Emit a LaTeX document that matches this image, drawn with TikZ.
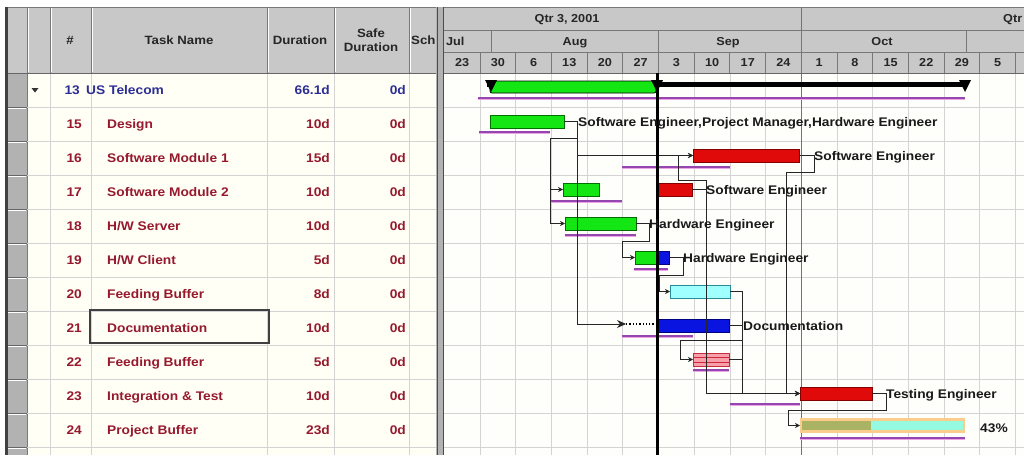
\documentclass[tikz,border=0pt]{standalone}
\usepackage{fontspec}
\setmainfont[FakeStretch=1.1]{Liberation Sans}
\usetikzlibrary{arrows.meta}
\definecolor{hdrc}{RGB}{200,200,200}
\definecolor{hdrline}{RGB}{120,120,120}
\definecolor{cellc}{RGB}{255,255,246}
\definecolor{chartc}{RGB}{254,254,250}
\definecolor{gridc}{RGB}{212,212,212}
\definecolor{rowhc}{RGB}{178,178,178}
\definecolor{tred}{RGB}{150,25,45}
\definecolor{tblue}{RGB}{45,45,150}
\definecolor{gG}{RGB}{20,230,20}
\definecolor{gGd}{RGB}{0,110,0}
\definecolor{rR}{RGB}{225,10,10}
\definecolor{rRd}{RGB}{130,0,0}
\definecolor{bB}{RGB}{10,20,225}
\definecolor{bBd}{RGB}{0,0,130}
\definecolor{cC}{RGB}{160,255,255}
\definecolor{cCd}{RGB}{40,140,150}
\definecolor{pP}{RGB}{150,70,175}
\definecolor{pK}{RGB}{235,165,230}
\definecolor{fbP}{RGB}{248,160,170}
\definecolor{fbR}{RGB}{205,40,60}
\definecolor{pbO}{RGB}{250,205,140}
\definecolor{pbG}{RGB}{170,178,100}
\definecolor{pbC}{RGB}{150,250,225}
\newcommand\ganttrow[6]{%
  \node[#6, anchor=base east] (num#2) at (82,{73+34*#1+21.5}) {#2};
  \node[#6, anchor=base west] (name#2) at (107,{73+34*#1+21.5}) {#3};
  \node[#6, anchor=base east] (dur#2) at (330,{73+34*#1+21.5}) {#4};
  \node[#6, anchor=base east] (safe#2) at (406,{73+34*#1+21.5}) {#5};
}
\begin{document}
\begin{tikzpicture}[x=1pt,y=-1pt,
  tt/.style={inner sep=0pt, font=\fontsize{12.5}{14}\selectfont\bfseries},
  ttr/.style={tt,text=tred}, ttb/.style={tt,text=tblue},
  hd/.style={inner sep=0pt, font=\fontsize{12}{14}\selectfont\bfseries, text=black!85, anchor=base},
  ts/.style={inner sep=0pt, font=\fontsize{11.5}{13}\selectfont\bfseries, text=black!85, anchor=base},
  lbl/.style={inner sep=0pt, font=\fontsize{12.5}{14}\selectfont\bfseries, text=black!90, anchor=base west},
  bar/.style={rectangle, inner sep=0pt, outer sep=0pt, anchor=north west, minimum height=13pt, line width=0.8pt},
  gbar/.style={bar, fill=gG, draw=gGd}, rbar/.style={bar, fill=rR, draw=rRd},
  bbar/.style={bar, fill=bB, draw=bBd}, cbar/.style={bar, fill=cC, draw=cCd},
  fbbar/.style={bar, fill=fbP, draw=fbR},
  link/.style={line width=0.9pt, draw=black!85},
  arr/.style={-{Stealth[length=5pt,width=5pt]}},
  baseA/.style={line width=1.6pt, draw=pP}, baseB/.style={line width=1.1pt, draw=pK}
]
\useasboundingbox (0,0) rectangle (1024,455);
\fill[white] (0,0) rectangle (1024,455);
% backgrounds
\fill[hdrc] (7,7) rectangle (436,73);
\fill[hdrc] (444,7) rectangle (1024,73);
\fill[cellc] (27,73) rectangle (436,455);
\fill[rowhc] (7,73) rectangle (27,455);
\fill[chartc] (444,73) rectangle (1024,455);
% table header lines
\foreach \x in {27,50,91,267,334,409} {
  \draw[hdrline, line width=0.9pt] (\x,7) -- (\x,73);
  \draw[white, line width=0.6pt] (\x+1.2,8) -- (\x+1.2,72);
}
\foreach \x in {50,91,267,334,409} \draw[gridc, line width=0.8pt] (\x,73) -- (\x,455);
\draw[hdrline, line width=1pt] (27,73) -- (27,455);
\foreach \k in {1,...,11} {
  \draw[gridc, line width=0.8pt] (27,{73+34*\k}) -- (436,{73+34*\k});
  \draw[black!60, line width=1pt] (7,{73+34*\k}) -- (27,{73+34*\k});
  \draw[white, line width=0.6pt] (7,{74.2+34*\k}) -- (26,{74.2+34*\k});
}
\draw[black!60, line width=1pt] (7,73) -- (436,73);
\draw[hdrline, line width=0.8pt] (7,7) -- (436,7);
% table header text
\node[hd] (hnum) at (70,44) {\#};
\node[hd] (hname) at (179,44) {Task Name};
\node[hd] (hdur) at (300,44) {Duration};
\node[hd] (hsafe1) at (371,37) {Safe};
\node[hd] (hsafe2) at (371,51) {Duration};
\node[hd, anchor=base west] (hsch) at (411,44) {Sch};
% table rows
\fill[black!80] (31.5,88) -- (38.5,88) -- (35,92.5) -- cycle;
\node[ttb, anchor=base east] (num13) at (80,94.5) {13};
\node[ttb, anchor=base west] (name13) at (86,94.5) {US Telecom};
\node[ttb, anchor=base east] (dur13) at (330,94.5) {66.1d};
\node[ttb, anchor=base east] (safe13) at (406,94.5) {0d};
\ganttrow{1}{15}{Design}{10d}{0d}{ttr}
\ganttrow{2}{16}{Software Module 1}{15d}{0d}{ttr}
\ganttrow{3}{17}{Software Module 2}{10d}{0d}{ttr}
\ganttrow{4}{18}{H/W Server}{10d}{0d}{ttr}
\ganttrow{5}{19}{H/W Client}{5d}{0d}{ttr}
\ganttrow{6}{20}{Feeding Buffer}{8d}{0d}{ttr}
\ganttrow{7}{21}{Documentation}{10d}{0d}{ttr}
\ganttrow{8}{22}{Feeding Buffer}{5d}{0d}{ttr}
\ganttrow{9}{23}{Integration \& Test}{10d}{0d}{ttr}
\ganttrow{10}{24}{Project Buffer}{23d}{0d}{ttr}
\draw[black!75, line width=2.5pt] (90,310) rectangle (269,343);
% left border and splitter
\draw[black!75, line width=2.5pt] (6.5,7) -- (6.5,455);
\fill[black!30] (436,7) rectangle (444,455);
\draw[black!70, line width=1pt] (437,7) -- (437,455);
\draw[black!70, line width=1.4pt] (443.3,7) -- (443.3,455);
% chart body grid
\foreach \i in {0,...,15} \draw[gridc, line width=0.8pt] ({480+35.7*\i},73) -- ({480+35.7*\i},455);
\foreach \k in {1,...,11} \draw[gridc, line width=0.8pt] (444,{73+34*\k}) -- (1024,{73+34*\k});
\draw[black!55, line width=1pt] (801,7) -- (801,455);
% timescale header
\draw[hdrline, line width=0.8pt] (444,7) -- (1024,7);
\draw[hdrline, line width=0.9pt] (444,30) -- (1024,30);
\draw[hdrline, line width=0.9pt] (444,52) -- (1024,52);
\draw[black!60, line width=1pt] (444,73) -- (1024,73);
\foreach \i in {0,...,15} \draw[hdrline, line width=0.9pt] ({480+35.7*\i},52) -- ({480+35.7*\i},73);
\foreach \x in {491,658,801,966} \draw[hdrline, line width=0.9pt] (\x,30) -- (\x,52);
\node[ts] (q3) at (567,22.5) {Qtr 3, 2001};
\node[ts, anchor=base west] (q4) at (1003,22.5) {Qtr};
\node[ts, anchor=base west] (mjul) at (446,45) {Jul};
\node[ts] (maug) at (575,45) {Aug};
\node[ts] (msep) at (728,45) {Sep};
\node[ts] (moct) at (882,45) {Oct};
\foreach \i/\lab in {-1/23,0/30,1/6,2/13,3/20,4/27,5/3,6/10,7/17,8/24,9/1,10/8,11/15,12/22,13/29,14/5}
  \node[ts] (wk\i) at ({480+35.7*\i+17.85},66.5) {\lab};
% baselines
\foreach \a/\b/\y in {478/965/98, 479/550/132, 622/730/167, 550/622/201, 565/636/235, 634/668/269, 622/693/336, 693/729/370, 730/800/404, 800/965/438} {
  \draw[baseA] (\a,\y) -- (\b,\y);
  \draw[baseB] (\a,\y+1.5) -- (\b,\y+1.5);
}
% summary row
\node[bar, fill=black, minimum width=478pt, minimum height=5pt] (sum13) at (487,82) {};
\node[bar, fill=gG, draw=black, minimum width=166pt, minimum height=12pt, rounded corners=2pt] (b13) at (490,81) {};
\foreach \x in {491,657,965} \fill[black] (\x-6,80) -- (\x+6,80) -- (\x,92) -- cycle;
% task bars
\node[gbar, minimum width=74pt] (b15) at (490,115) {};
\node[rbar, minimum width=106pt] (b16) at (693,149) {};
\node[gbar, minimum width=36pt] (b17a) at (563,183) {};
\node[rbar, minimum width=35pt] (b17b) at (657,183) {};
\node[gbar, minimum width=71pt] (b18) at (565,217) {};
\node[gbar, minimum width=22pt] (b19a) at (635,251) {};
\node[bbar, minimum width=12pt] (b19b) at (657,251) {};
\node[cbar, minimum width=60pt] (b20) at (670,285) {};
\node[bbar, minimum width=72pt] (b21) at (657,319) {};
\node[fbbar, minimum width=36pt] (b22) at (693,353) {};
\draw[fbR, line width=0.8pt] ([yshift=2.5pt]b22.west) -- ([yshift=2.5pt]b22.east);
\draw[fbR, line width=0.8pt] ([yshift=-2.5pt]b22.west) -- ([yshift=-2.5pt]b22.east);
\node[rbar, minimum width=72pt] (b23) at (800,387) {};
\node[bar, fill=pbO, minimum width=165pt, minimum height=15pt] (b24) at (800,418) {};
\fill[pbG] (802,421) rectangle (871,430);
\fill[pbC] (871,421) rectangle (963,430);
% junction coordinates
\coordinate (d1) at (577,121.5);
\coordinate (d2) at (577,138);
\coordinate (jD) at (550,138);
\coordinate (dArr) at (626,324);
\coordinate (s1) at (706,189.5);
\coordinate (s2) at (706,180);
\coordinate (s3) at (678,180);
\coordinate (m1) at (814,155.5);
\coordinate (m2) at (814,172);
\coordinate (m3) at (786,172);
\coordinate (h1) at (649,223.5);
\coordinate (h2) at (649,241);
\coordinate (h3) at (622,241);
\coordinate (c1) at (683,257.5);
\coordinate (c2) at (683,275);
\coordinate (c3) at (659,275);
\coordinate (f1) at (742,291.5);
\coordinate (o1) at (742,325.5);
\coordinate (o2) at (742,340);
\coordinate (o3) at (680,340);
\coordinate (t1) at (886,393.5);
\coordinate (t2) at (886,410);
\coordinate (t3) at (788,410);
% links
\draw[link,arr] (b15.east) -- (d1) -- (d2) -- (jD) |- (b18.west);
\draw[link,arr] (jD) |- (b17a.west);
\draw[link,arr] (d1) |- (b16.west);
\draw[link,-{Stealth[length=9pt,width=8pt]}] (d1) |- (dArr);
\draw[black, line width=1.3pt, dotted] (dArr) -- (dArr -| b21.west);
\draw[link,arr] (b17b.east) -- (s1) -- (s2) -- (s3) |- (b16.west);
\draw[link,arr] (s2) |- (b23.west);
\draw[link,arr] (b16.east) -- (m1) -- (m2) -- (m3) |- (b23.west);
\draw[link,arr] (b18.east) -- (h1) -- (h2) -- (h3) |- (b19a.west);
\draw[link,arr] (b19b.east) -- (c1) -- (c2) -- (c3) |- (b20.west);
\draw[link,arr] (b20.east) -- (f1) |- (b23.west);
\draw[link,arr] (b21.east) -- (o1) -- (o2) -- (o3) |- (b22.west);
\draw[link] (b22.east) -- (b22.east -| f1);
\draw[link,arr] (b23.east) -- (t1) -- (t2) -- (t3) |- (b24.west);
% today line
\draw[black, line width=2.4pt] (657.5,73) -- (657.5,455);
% labels
\node[lbl] (l15) at (578,126) {Software Engineer,Project Manager,Hardware Engineer};
\node[lbl] (l16) at (814,160) {Software Engineer};
\node[lbl] (l17) at (706,194) {Software Engineer};
\node[lbl] (l18) at (649,228) {Hardware Engineer};
\node[lbl] (l19) at (683,262) {Hardware Engineer};
\node[lbl] (l21) at (743,330) {Documentation};
\node[lbl] (l23) at (886,398) {Testing Engineer};
\node[lbl] (l24) at (980,432) {43\%};
\end{tikzpicture}
\end{document}
